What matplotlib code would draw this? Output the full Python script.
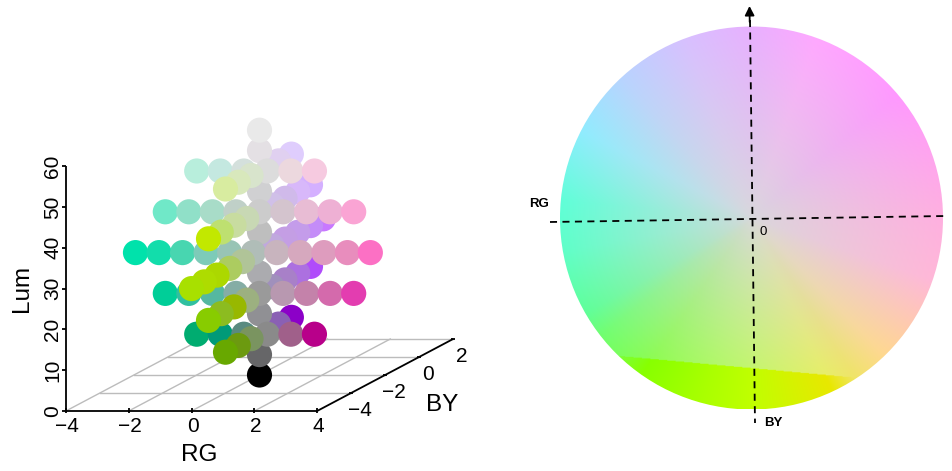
#!/usr/bin/env python3
# -*- coding: utf-8 -*-
"""Isoluminant colour space: 3D scatter on the left, colour disc on the right."""
import numpy as np
import matplotlib
matplotlib.use('Agg')
import matplotlib.pyplot as plt
from matplotlib.colors import to_rgb
from matplotlib.patches import Circle

plt.rcParams['font.family'] = ['Liberation Sans', 'DejaVu Sans']

# Neutral column
column_lum = [0, 5, 15, 25, 35, 45, 55, 60]
column_colors = ['#000000', '#666668', '#909094', '#ababaf', '#bebebe',
                 '#d0d0d2', '#e4e0e4', '#e9e9e9']

# Rows along RG, all at BY = -2
row_lum = [10, 20, 30, 40, 50]
row_rg = {10: [-2, -1.25, -0.5, 0.25, 1, 1.75],
          20: [-3, -2.25, -1.5, -0.75, 0, 0.75, 1.5, 2.25, 3],
          30: [-3.95, -3.2, -2.45, -1.7, -0.95, -0.2, 0.55, 1.3, 2.05, 2.8, 3.53],
          40: [-3, -2.25, -1.5, -0.75, 0, 0.75, 1.5, 2.25, 3],
          50: [-2, -1.25, -0.5, 0.25, 1, 1.75]}
row_colors = {
    10: ['#00ac70', '#009a78', '#5a8a80', '#8a8a8a', '#a0608a', '#b8008a'],
    20: ['#00ce98', '#30c0a0', '#55b8a0', '#85ada5', '#9a9a9a', '#b898b0',
         '#c482aa', '#d46aac', '#e33db0'],
    30: ['#00e2ab', '#12ddab', '#48d6b0', '#7dcbb8', '#98c4b5', '#b0bdb8',
         '#c8b4be', '#d6a8be', '#de9cbe', '#e88dbd', '#fc70c4'],
    40: ['#70e8c8', '#90e0c8', '#a8dcc8', '#c0d0c8', '#cccccc', '#d4c4ce',
         '#e8bcd4', '#eeb0d4', '#faa4d4'],
    50: ['#b8eedc', '#c4e8e0', '#d4e0dc', '#dcdcdc', '#ecd8de', '#f6cae0']}

# Rows along BY, all at RG = 0
by_values = {10: [-4, -3.25, -2.5, -0.875, -0.125],
             20: [-5, -4.25, -3.5, -2.75, -1.25, -0.5, 0.25, 1],
             30: [-6, -5.25, -4.5, -3.75, -3, -1.25, -0.5, 0.25, 1, 1.75],
             40: [-5, -4.25, -3.5, -2.75, -1.25, -0.5, 0.25, 1],
             50: [-4, -3.25, -2.5, -0.875, -0.125]}
by_colors = {
    10: ['#68a800', '#6c9a10', '#7a9460', '#8a60b4', '#8c00c8'],
    20: ['#88cc00', '#8cbc20', '#98b800', '#9cb080', '#a090bc', '#a880c8',
         '#ac70e0', '#b04cfa'],
    30: ['#a8e000', '#aedc00', '#acd800', '#accc60', '#b0c498', '#c0a8de',
         '#c49ee4', '#c49cea', '#c48cf8', '#c878ff'],
    40: ['#c2e800', '#bee070', '#c8dca0', '#c8d8b4', '#d0c0e8', '#d0baea',
         '#d8b8fa', '#d4b0ff'],
    50: ['#d8eca0', '#d8e8bc', '#d8e4cc', '#e0d0f0', '#dfcdfd']}

rg_ticks = [-4, -2, 0, 2, 4]
by_ticks = [-4, -2, 0, 2]
lum_ticks = [0, 10, 20, 30, 40, 50, 60]

# Colour at the rim of the disc, by angle in degrees
rim_angles = [0, 40, 70, 90, 110, 133, 153, 175, 190, 210, 218, 235, 255, 270,
              295, 303, 314, 341, 360]
rim_colors = ['#ffb0e0', '#ff98ff', '#ffa8ff', '#e8b0ff', '#d8c0ff', '#b8d4ff',
              '#90ecff', '#60ffd8', '#60ffc8', '#60ff98', '#70ff70', '#88ff00',
              '#aaff00', '#c0ff00', '#e8e800', '#f0e468', '#ffd890', '#ffb8d8',
              '#ffb0e0']
# Same rim above the saturated band at the bottom: paler greens and yellows
pale_colors = ['#ffb0e0', '#ff98ff', '#ffa8ff', '#e8b0ff', '#d8c0ff', '#b8d4ff',
               '#90ecff', '#60ffd8', '#60ffc8', '#60ff98', '#70ff70', '#88ff48',
               '#a8ff50', '#c0fc58', '#e8f060', '#f0e468', '#ffd890', '#ffb8d8',
               '#ffb0e0']
disc_center_color = '#d8d8dc'


def project(rg, by, lum):
    """Oblique projection of the three axes to figure pixels."""
    rg, by, lum = np.asarray(rg), np.asarray(by), np.asarray(lum)
    x_px = 191.5 + 31.4 * rg + 17. * (by + 6.)
    y_px = 411. - 4.08 * lum - 9. * (by + 6.)
    return x_px, y_px


def plot_scatter(ax):
    """Draw the 3D looking box and the points, back to front."""
    grid = {'color': '#bcbcbc', 'lw': 1., 'zorder': 1}
    for by in by_ticks:
        ax.plot(*project([-4, 4], [by, by], [0, 0]), **grid)
    for rg in rg_ticks[:-1]:
        ax.plot(*project([rg, rg], [-6, 2], [0, 0]), **grid)

    line = {'color': 'k', 'lw': 1.3, 'zorder': 2, 'solid_capstyle': 'butt'}
    ax.plot(*project([-4, 4], [-6, -6], [0, 0]), **line)
    ax.plot(*project([4, 4], [-6, 2], [0, 0]), **line)
    ax.plot(*project([-4, -4], [-6, -6], [0, 60]), **line)

    for rg in rg_ticks:
        x_px, y_px = project(rg, -6, 0)
        ax.plot([x_px, x_px], [y_px - 3, y_px + 2], **line)
        ax.text(x_px + 1, y_px + 16, str(rg).replace('-', '\u2212'),
                fontsize=15, ha='center', va='center')
    for by in by_ticks:
        x_px, y_px = project(4, by, 0)
        ax.plot([x_px - 2, x_px + 2], [y_px, y_px], **line)
        ax.text(x_px + 9, y_px + 17, str(by).replace('-', '\u2212'),
                fontsize=15, ha='center', va='center')
    for lum in lum_ticks:
        x_px, y_px = project(-4, -6, lum)
        ax.plot([x_px - 3.5, x_px], [y_px, y_px], **line)
        ax.text(x_px - 13, y_px, str(lum), fontsize=15, rotation=90,
                ha='center', va='center')

    ax.text(199, 455, 'RG', fontsize=17.5, ha='center', va='center')
    ax.text(442, 405, 'BY', fontsize=17.5, ha='center', va='center')
    ax.text(22, 288, 'Lum', fontsize=17.5, rotation=90, ha='center',
            va='center')

    rg_all, by_all, lum_all, col_all = [], [], [], []
    for lum, col in zip(column_lum, column_colors):
        rg_all.append(0.)
        by_all.append(-2.)
        lum_all.append(lum)
        col_all.append(col)
    for lum in row_lum:
        for rg, col in zip(row_rg[lum], row_colors[lum]):
            rg_all.append(rg)
            by_all.append(-2.)
            lum_all.append(lum)
            col_all.append(col)
        for by, col in zip(by_values[lum], by_colors[lum]):
            rg_all.append(0.)
            by_all.append(by)
            lum_all.append(lum)
            col_all.append(col)

    # Painter's order: largest BY is the furthest away
    order = np.argsort(-np.array(by_all), kind='stable')
    x_px, y_px = project(np.array(rg_all)[order], np.array(by_all)[order],
                         np.array(lum_all)[order])
    ax.scatter(x_px, y_px, s=328, c=[col_all[i] for i in order],
               linewidths=0, zorder=3)


def plot_disc(ax):
    """Draw the colour disc with its dashed axes."""
    center, radius = (751.5, 218.), 191.5
    grid = np.linspace(-1, 1, 500)
    xx, yy = np.meshgrid(grid, grid)
    rad = np.clip(np.hypot(xx, yy), 0, 1)
    ang = np.degrees(np.arctan2(-yy, xx)) % 360.

    rim = np.array([to_rgb(col) for col in rim_colors])
    pale = np.array([to_rgb(col) for col in pale_colors])
    mid = np.array(to_rgb(disc_center_color))
    img = np.zeros(xx.shape + (3,))
    # Below the chord the colours are fully saturated
    band = yy > 0.788 + 0.0917 * xx
    weight = np.where(band, 1., rad**0.85)
    for i in range(3):
        rim_i = np.interp(ang, rim_angles, rim[:, i])
        pale_i = np.interp(ang, rim_angles, pale[:, i])
        target = np.where(band, rim_i, pale_i)
        img[:, :, i] = mid[i] + weight * (target - mid[i])

    extent = (center[0] - radius, center[0] + radius,
              center[1] + radius, center[1] - radius)
    image = ax.imshow(img, extent=extent, interpolation='bilinear', zorder=1,
                      aspect='auto')
    clip = Circle(center, radius, transform=ax.transData)
    image.set_clip_path(clip)

    dash = {'color': 'k', 'lw': 1.3, 'ls': (0, (3.9, 3.)), 'zorder': 2}
    ax.plot([750, 755], [20, 423], **dash)
    ax.plot([550, 946], [222, 216], **dash)
    for tip, tail in (((749.5, 6), (749.7, 22)), ((957, 215.9), (945, 216.1))):
        ax.annotate('', xy=tip, xytext=tail, zorder=3,
                    arrowprops={'arrowstyle': '-|>,head_width=0.28,head_length=0.55',
                                'color': 'k', 'lw': 1.3, 'shrinkA': 0,
                                'shrinkB': 0})
    ax.text(539.5, 204, 'RG', fontsize=9.5, fontweight='bold', ha='center',
            va='center')
    ax.text(773.5, 423, 'BY', fontsize=9.5, fontweight='bold', ha='center',
            va='center')
    ax.text(763, 232, '0', fontsize=9.5, ha='center', va='center')


fig = plt.figure(figsize=(9.52, 4.71), dpi=100)
axx = fig.add_axes([0, 0, 1, 1])
plot_disc(axx)
plot_scatter(axx)
axx.set_xlim(0, 952)
axx.set_ylim(471, 0)
axx.axis('off')
fig.savefig('out.png', dpi=100)
